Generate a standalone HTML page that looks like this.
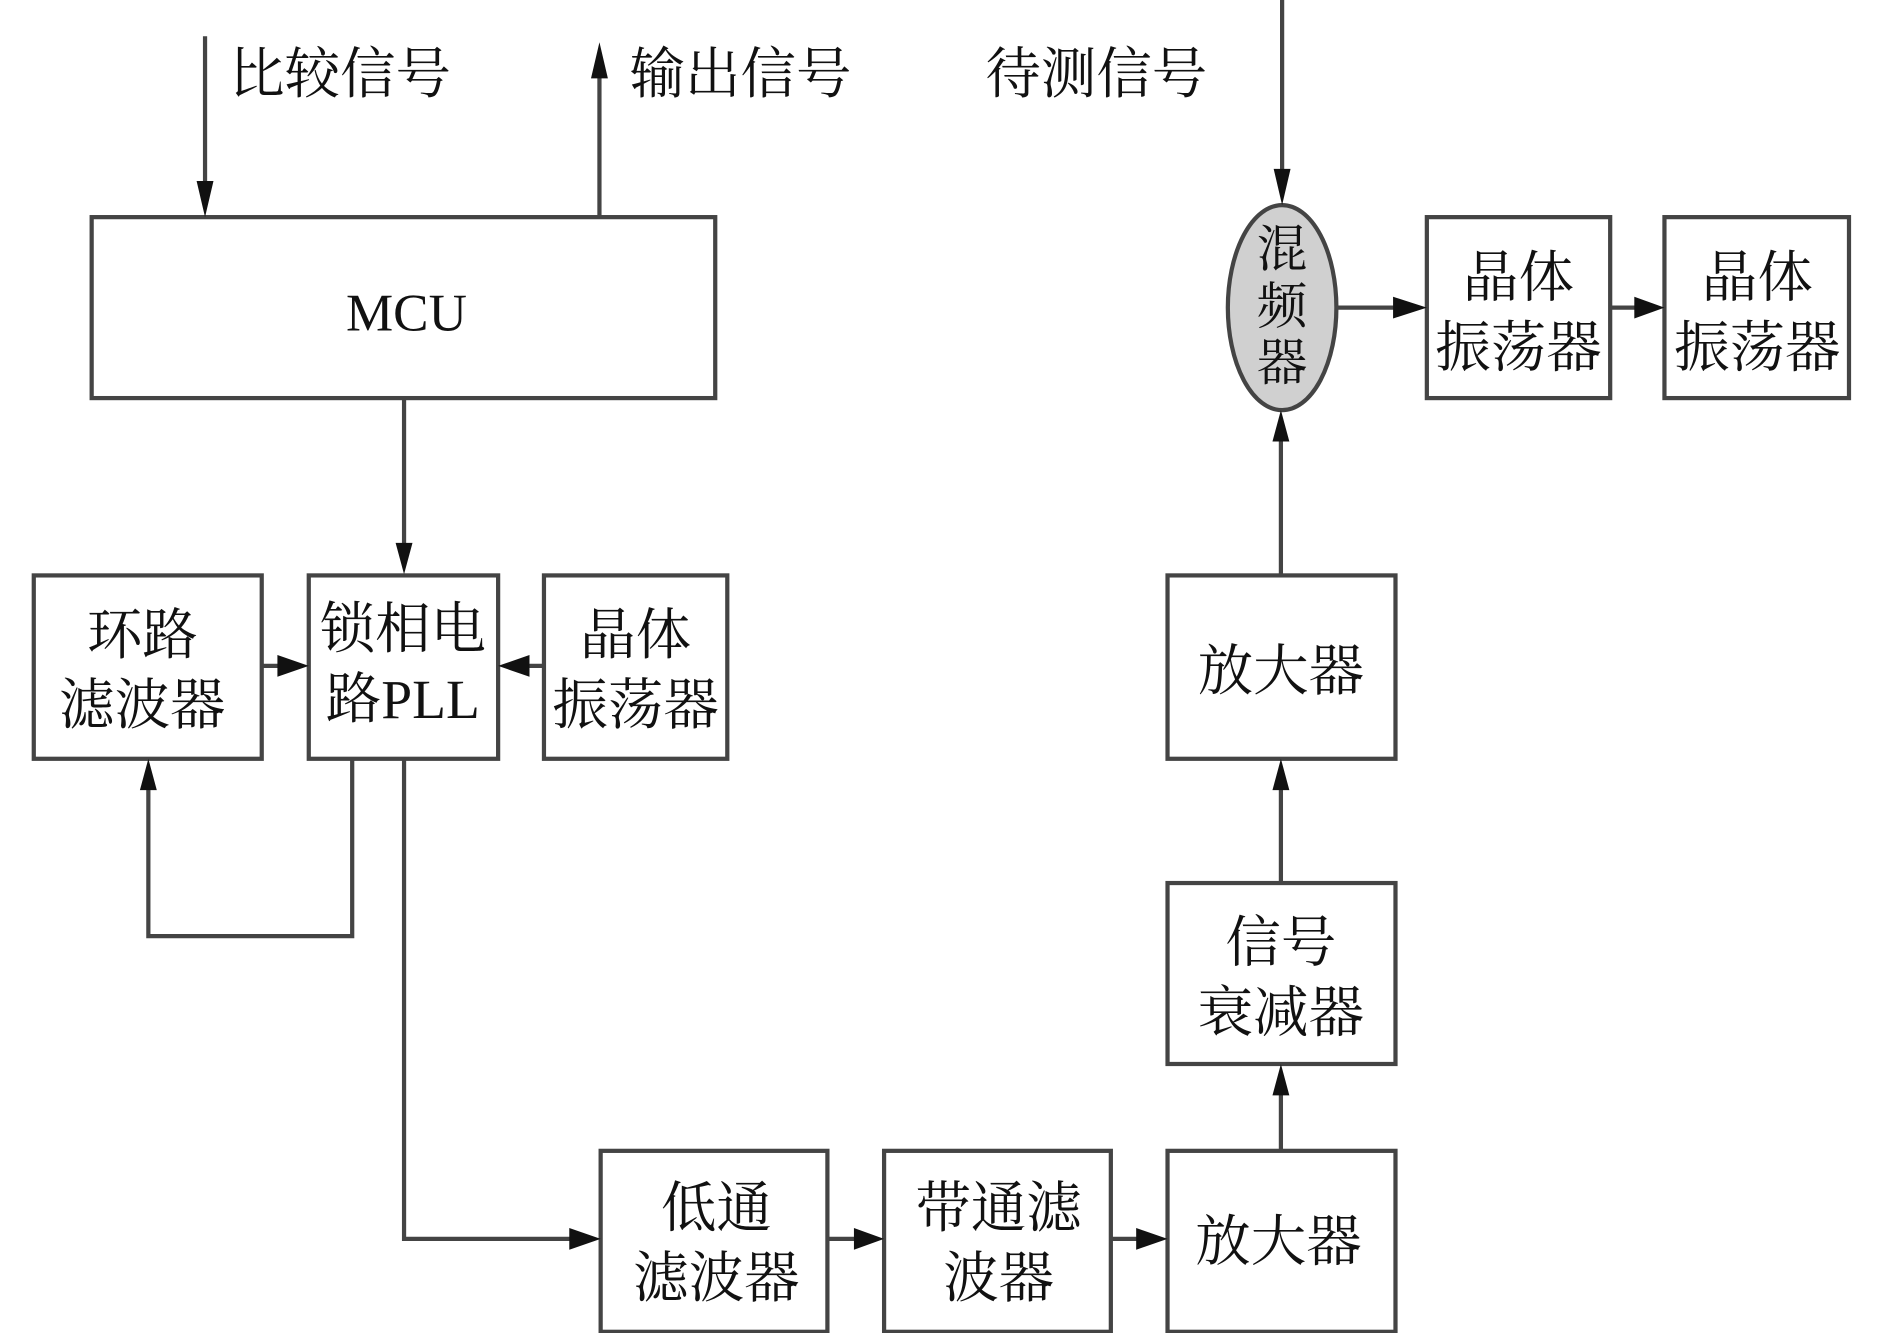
<!DOCTYPE html>
<html><head><meta charset="utf-8"><style>
html,body{margin:0;padding:0;background:#fff;}
svg{display:block;}
text{font-family:"Liberation Serif","Noto Serif CJK SC",serif;fill:#111;}
</style></head><body>
<svg width="1890" height="1333" viewBox="0 0 1567 1105" preserveAspectRatio="none" xmlns="http://www.w3.org/2000/svg">
<g fill="#fff" stroke="#444" stroke-width="3.5">
<rect x="76" y="180" width="517" height="150"/>
<rect x="28" y="477" width="189" height="152"/>
<rect x="256" y="477" width="157" height="152"/>
<rect x="451" y="477" width="152" height="152"/>
<rect x="1183" y="180" width="152" height="150"/>
<rect x="1380" y="180" width="153" height="150"/>
<rect x="968" y="477" width="189" height="152"/>
<rect x="968" y="732" width="189" height="150"/>
<rect x="498" y="954" width="188" height="150"/>
<rect x="733" y="954" width="188" height="150"/>
<rect x="968" y="954" width="189" height="150"/>
<ellipse cx="1063" cy="255" rx="45" ry="85" fill="#d0d0d0"/>
</g>
<g stroke="#444" stroke-width="3.5" fill="none">
<line x1="170" y1="30" x2="170" y2="160"/>
<line x1="497" y1="180" x2="497" y2="55"/>
<line x1="1063" y1="0" x2="1063" y2="150"/>
<line x1="1108" y1="255" x2="1163" y2="255"/>
<line x1="1335" y1="255" x2="1360" y2="255"/>
<line x1="335" y1="330" x2="335" y2="456"/>
<line x1="217" y1="552" x2="236" y2="552"/>
<line x1="451" y1="552" x2="433" y2="552"/>
<polyline points="292,629 292,776 123,776 123,650"/>
<polyline points="335,629 335,1027 478,1027"/>
<line x1="686" y1="1027" x2="713" y2="1027"/>
<line x1="921" y1="1027" x2="947" y2="1027"/>
<line x1="1062" y1="954" x2="1062" y2="902"/>
<line x1="1062" y1="732" x2="1062" y2="649"/>
<line x1="1062" y1="477" x2="1062" y2="360"/>
</g>
<g fill="#111">
<polygon points="163,150 177,150 170,180"/>
<polygon points="490,65 504,65 497,35"/>
<polygon points="1056,140 1070,140 1063,170"/>
<polygon points="1155,246 1155,264 1183,255"/>
<polygon points="1355,246 1355,264 1380,255"/>
<polygon points="328,450 342,450 335,476"/>
<polygon points="230,543 230,561 256,552"/>
<polygon points="439,543 439,561 413,552"/>
<polygon points="116,655 130,655 123,629"/>
<polygon points="472,1018 472,1036 498,1027"/>
<polygon points="708,1018 708,1036 733,1027"/>
<polygon points="942,1018 942,1036 968,1027"/>
<polygon points="1055,908 1069,908 1062,882"/>
<polygon points="1055,655 1069,655 1062,629"/>
<polygon points="1055,366 1069,366 1062,340"/>
</g>
<g font-size="46">
<text x="190" y="77">比较信号</text>
<text x="522" y="77">输出信号</text>
<text x="817" y="77">待测信号</text>
<text x="337" y="274" text-anchor="middle" font-size="44">MCU</text>
<text x="118" y="542" text-anchor="middle">环路</text>
<text x="118" y="600" text-anchor="middle">滤波器</text>
<text x="334" y="537" text-anchor="middle">锁相电</text>
<text x="334" y="595" text-anchor="middle">路PLL</text>
<text x="527" y="542" text-anchor="middle">晶体</text>
<text x="527" y="600" text-anchor="middle">振荡器</text>
<text x="1259" y="246" text-anchor="middle">晶体</text>
<text x="1259" y="304" text-anchor="middle">振荡器</text>
<text x="1457" y="246" text-anchor="middle">晶体</text>
<text x="1457" y="304" text-anchor="middle">振荡器</text>
<text x="1063" y="221" text-anchor="middle" font-size="42">混</text>
<text x="1063" y="268" text-anchor="middle" font-size="42">频</text>
<text x="1063" y="315" text-anchor="middle" font-size="42">器</text>
<text x="1062" y="572" text-anchor="middle">放大器</text>
<text x="1062" y="797" text-anchor="middle">信号</text>
<text x="1062" y="855" text-anchor="middle">衰减器</text>
<text x="594" y="1017" text-anchor="middle">低通</text>
<text x="594" y="1075" text-anchor="middle">滤波器</text>
<text x="828" y="1017" text-anchor="middle">带通滤</text>
<text x="828" y="1075" text-anchor="middle">波器</text>
<text x="1060" y="1045" text-anchor="middle">放大器</text>
</g>
</svg>
</body></html>
